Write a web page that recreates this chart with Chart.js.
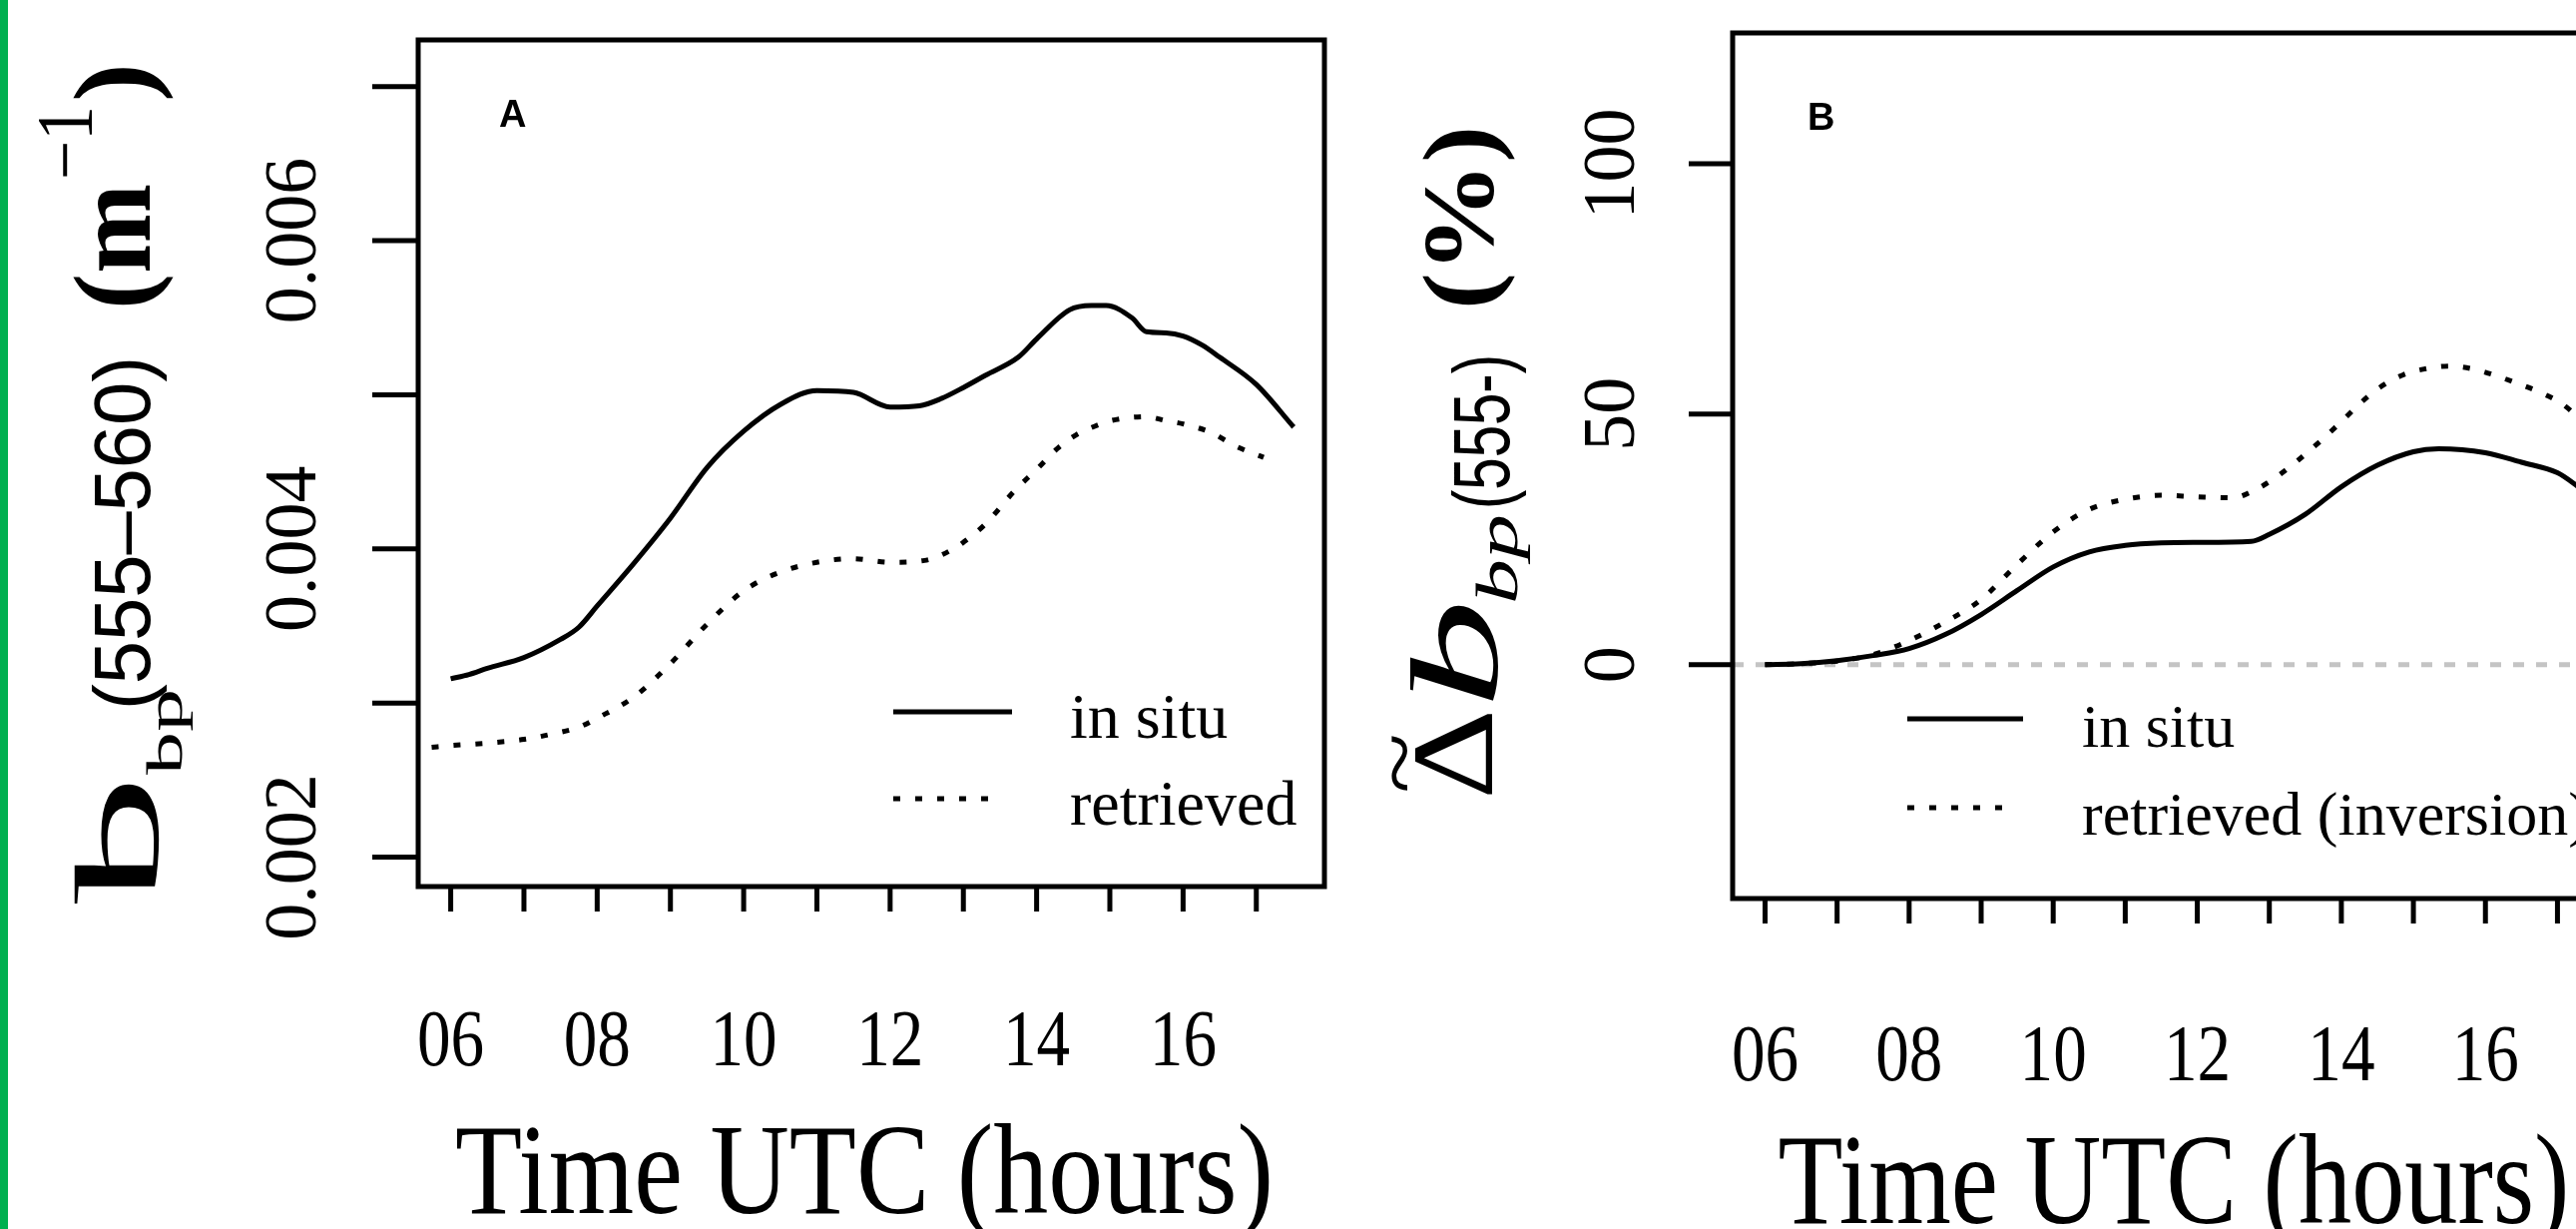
<!DOCTYPE html>
<html>
<head>
<meta charset="utf-8">
<script src="https://cdn.jsdelivr.net/npm/chart.js@4.4.1/dist/chart.umd.min.js"></script>
<style>
  html, body { margin: 0; padding: 0; background: #fff; }
  #wrap { position: relative; width: 2581px; height: 1231px; overflow: hidden; background: #fff; }
  #bar { position: absolute; left: 0; top: 0; width: 8px; height: 1231px; background: #00b050; }
  #chartA { position: absolute; left: 0; top: 0; }
  #chartB { position: absolute; left: 1385px; top: 0; }
</style>
</head>
<body>
<div id="wrap">
  <div id="bar"></div>
  <canvas id="chartA" width="1400" height="1231"></canvas>
  <canvas id="chartB" width="1400" height="1231"></canvas>
</div>
<script>
// ---- データ ----
// パネルA : b_bp(555-560) (m^-1)
var hoursInSituA = [6.0, 6.25, 6.5, 7.0, 7.5, 7.75, 8.0, 8.5, 9.0, 9.5, 10.0, 10.5, 11.0, 11.5, 12.0, 12.4, 12.7, 13.0, 13.3, 13.75, 14.0, 14.45, 14.75, 14.95, 15.3, 15.5, 15.77, 16.0, 16.26, 16.5, 17.0, 17.51];
var inSituA = [0.003157, 0.003185, 0.003225, 0.003295, 0.003413, 0.003492, 0.00363, 0.003906, 0.0042, 0.004528, 0.004764, 0.004937, 0.005028, 0.005016, 0.004921, 0.004929, 0.004976, 0.005047, 0.005126, 0.005244, 0.005362, 0.005551, 0.005579, 0.005579, 0.0055, 0.005409, 0.005402, 0.005382, 0.005323, 0.005244, 0.005067, 0.004791];
var hoursRetrievedA = [5.74, 6.0, 6.5, 7.0, 7.42, 7.75, 8.0, 8.5, 9.0, 9.5, 10.0, 10.48, 11.0, 11.48, 12.0, 12.47, 12.88, 13.0, 13.3, 13.7, 14.0, 14.29, 14.54, 14.83, 15.0, 15.49, 15.78, 16.0, 16.4, 16.69, 17.1];
var retrievedA = [0.002713, 0.002724, 0.00274, 0.002764, 0.002803, 0.002843, 0.002902, 0.003039, 0.003256, 0.003512, 0.003728, 0.003846, 0.003913, 0.003937, 0.003913, 0.003925, 0.004004, 0.004043, 0.004161, 0.004378, 0.004516, 0.004654, 0.00474, 0.004803, 0.004831, 0.004858, 0.004831, 0.004811, 0.004752, 0.004673, 0.004594];

// パネルB : 変化率 (%)
var hoursInSituB = [6.0, 6.5, 7.0, 7.5, 8.0, 8.5, 9.0, 9.5, 10.0, 10.5, 11.0, 11.5, 12.0, 12.75, 13.0, 13.5, 14.0, 14.5, 15.0, 15.35, 16.0, 16.5, 17.0, 17.26, 17.5];
var inSituB = [0, 0.2, 0.8, 1.8, 3.2, 6.0, 10.0, 14.8, 19.5, 22.5, 23.8, 24.3, 24.4, 24.6, 26.0, 30.0, 35.5, 39.8, 42.5, 43.1, 42.3, 40.4, 38.3, 35.8, 33];
var hoursRetrievedB = [6.0, 6.5, 7.0, 7.5, 8.0, 8.5, 9.0, 9.5, 10.0, 10.5, 11.0, 11.5, 12.0, 12.5, 12.75, 13.0, 13.4, 13.7, 14.0, 14.25, 14.5, 14.85, 15.15, 15.5, 15.8, 16.1, 16.47, 16.75, 17.06, 17.26, 17.5];
var retrievedB = [0, 0.2, 0.7, 2.0, 4.8, 8.5, 13.0, 20.0, 26.5, 31.0, 33.0, 33.8, 33.5, 33.3, 34.5, 36.5, 40.8, 44.5, 48.5, 52.0, 55.0, 57.8, 59.0, 59.6, 59.1, 57.9, 56.0, 54.4, 52.1, 49.7, 46];

// 目盛り
var xTicks = [6, 7, 8, 9, 10, 11, 12, 13, 14, 15, 16, 17];
var xLabelHours = [6, 8, 10, 12, 14, 16];
var xLabels = ['06', '08', '10', '12', '14', '16'];
var yTicksA = [0.002, 0.003, 0.004, 0.005, 0.006, 0.007];
var yLabelValsA = [0.002, 0.004, 0.006];
var yLabelsA = ['0.002', '0.004', '0.006'];
var yTicksB = [0, 50, 100];
var yLabelsB = ['0', '50', '100'];
var legendA = ['in situ', 'retrieved'];
var legendB = ['in situ', 'retrieved (inversion)'];

var SERIF = "'Liberation Serif', 'Times New Roman', serif";
var SANS = "'Liberation Sans', Arial, sans-serif";
var DOT = [7, 15];

function pts(xs, ys) {
  return xs.map(function (x, i) { return { x: x, y: ys[i] }; });
}

//テキスト描画（回転・横幅合わせ）
function txt(ctx, s, x, y, font, o) {
  o = o || {};
  ctx.save();
  ctx.translate(x, y);
  if (o.rot) ctx.rotate(o.rot);
  ctx.font = font;
  ctx.textAlign = o.align || 'left';
  ctx.textBaseline = 'alphabetic';
  var sx = o.sx || 1;
  if (o.len) sx = o.len / ctx.measureText(s).width;
  ctx.scale(sx, 1);
  ctx.fillStyle = '#000';
  ctx.fillText(s, 0, 0);
  ctx.restore();
}

//縦書き（下から上へ）のパーツ
function vpart(ctx, s, baseX, yStart, yEnd, font) {
  txt(ctx, s, baseX, yStart, font, { rot: -Math.PI / 2, len: yStart - yEnd });
}

function line(ctx, x1, y1, x2, y2, w, dash, color) {
  ctx.save();
  ctx.strokeStyle = color || '#000';
  ctx.lineWidth = w;
  ctx.lineCap = 'butt';
  ctx.setLineDash(dash || []);
  ctx.beginPath();
  ctx.moveTo(x1, y1);
  ctx.lineTo(x2, y2);
  ctx.stroke();
  ctx.restore();
}

function frame(g) {
  return {
    id: 'frame' + g.name,
    beforeDatasetsDraw: function (chart) {
      var ctx = chart.ctx, a = chart.chartArea;
      if (g.zero) {
        var y0 = chart.scales.y.getPixelForValue(0);
        line(ctx, a.left, y0, a.right, y0, 5, [11, 12], '#c4c4c4');
      }
    },
    afterDraw: function (chart) {
      var ctx = chart.ctx, a = chart.chartArea;
      var xs = chart.scales.x, ys = chart.scales.y;
      var ox = g.ox;
      ctx.save();
      ctx.translate(-ox, 0);
      var L = a.left + ox, R = a.right + ox, T = a.top, B = a.bottom;
      // 枠
      ctx.strokeStyle = '#000';
      ctx.lineWidth = 5;
      ctx.lineJoin = 'miter';
      ctx.setLineDash([]);
      ctx.strokeRect(L, T, R - L, B - T);
      // x目盛り
      xTicks.forEach(function (h) {
        var px = xs.getPixelForValue(h) + ox;
        line(ctx, px, B, px, B + g.xTickLen, 5);
      });
      xLabelHours.forEach(function (h, i) {
        var px = xs.getPixelForValue(h) + ox;
        txt(ctx, xLabels[i], px, g.xLabelBase, '80px ' + SERIF, { align: 'center', sx: 0.84 });
      });
      // y目盛り
      g.yTicks.forEach(function (v) {
        var py = ys.getPixelForValue(v);
        line(ctx, L - g.yTickLen, py, L, py, 5);
      });
      g.yLabelVals.forEach(function (v, i) {
        var py = ys.getPixelForValue(v);
        txt(ctx, g.yLabels[i], g.yLabelBase, py, '74px ' + SERIF, { rot: -Math.PI / 2, align: 'center' });
      });
      // x軸タイトル
      txt(ctx, 'Time UTC (hours)', g.xTitleX, g.xTitleBase, '130px ' + SERIF, { align: 'center', len: g.xTitleLen });
      // パネル記号
      txt(ctx, g.name, g.letterX, g.letterBase, 'bold 38px ' + SANS);
      // 凡例
      line(ctx, g.leg.x1, g.leg.y1, g.leg.x2, g.leg.y1, 5);
      line(ctx, g.leg.x1, g.leg.y2, g.leg.x3, g.leg.y2, 5, DOT);
      txt(ctx, g.legend[0], g.leg.tx, g.leg.b1, g.leg.size + 'px ' + SERIF);
      txt(ctx, g.legend[1], g.leg.tx, g.leg.b2, g.leg.size + 'px ' + SERIF);
      // y軸タイトル
      g.yTitle(ctx);
      ctx.restore();
    }
  };
}

function makeChart(id, g, dsets) {
  return new Chart(document.getElementById(id), {
    type: 'line',
    data: {
      datasets: dsets.map(function (d) {
        return {
          data: d.data,
          borderColor: '#000',
          borderWidth: 5,
          borderDash: d.dash || [],
          borderCapStyle: 'butt',
          pointRadius: 0,
          fill: false,
          cubicInterpolationMode: 'monotone'
        };
      })
    },
    options: {
      responsive: false,
      animation: false,
      events: [],
      layout: { padding: g.pad },
      plugins: { legend: { display: false }, tooltip: { enabled: false } },
      scales: {
        x: { type: 'linear', display: false, min: g.xMin, max: g.xMax },
        y: { type: 'linear', display: false, min: g.yMin, max: g.yMax }
      }
    },
    plugins: [frame(g)]
  });
}

//パネルA
makeChart('chartA', {
  name: 'A', ox: 0,
  pad: { left: 419, right: 73, top: 40, bottom: 343 },
  xMin: 5.556, xMax: 17.93, yMin: 0.001809, yMax: 0.007303,
  yTicks: yTicksA, yLabelVals: yLabelValsA, yLabels: yLabelsA,
  xTickLen: 25, yTickLen: 46, xLabelBase: 1067, yLabelBase: 316,
  xTitleX: 866, xTitleBase: 1215, xTitleLen: 820,
  letterX: 500, letterBase: 127,
  legend: legendA,
  leg: { x1: 895, x2: 1014, x3: 1000, y1: 713, y2: 800, tx: 1072, b1: 739, b2: 826, size: 64 },
  yTitle: function (ctx) {
    vpart(ctx, 'b', 158, 905, 776, '120px ' + SERIF);
    vpart(ctx, 'bp', 182, 776, 690, '50px ' + SERIF);
    vpart(ctx, '(555\u2013560)', 150, 711, 357, '80px ' + SANS);
    vpart(ctx, '(m', 150, 310, 184, 'bold 110px ' + SERIF);
    vpart(ctx, '\u22121', 92, 180, 106, '80px ' + SERIF);
    vpart(ctx, ')', 150, 102, 63, 'bold 110px ' + SERIF);
  }
}, [
  { data: pts(hoursInSituA, inSituA) },
  { data: pts(hoursRetrievedA, retrievedA), dash: DOT }
]);

//パネルB
makeChart('chartB', {
  name: 'B', ox: 1385, zero: true,
  pad: { left: 351, right: 154, top: 33, bottom: 331 },
  xMin: 5.55, xMax: 17.95, yMin: -46.7, yMax: 126.1,
  yTicks: yTicksB, yLabelVals: yTicksB, yLabels: yLabelsB,
  xTickLen: 25, yTickLen: 44, xLabelBase: 1082, yLabelBase: 1637,
  xTitleX: 2178, xTitleBase: 1225, xTitleLen: 793,
  letterX: 1811, letterBase: 130,
  legend: legendB,
  leg: { x1: 1911, x2: 2027, x3: 2006, y1: 720, y2: 809, tx: 2086, b1: 748, b2: 836, size: 62 },
  yTitle: function (ctx) {
    vpart(ctx, '~', 1432, 795, 734, '90px ' + SERIF);
    vpart(ctx, '\u0394', 1495, 801, 710, '116px ' + SERIF);
    vpart(ctx, 'b', 1500, 710, 600, 'italic 124px ' + SERIF);
    vpart(ctx, 'bp', 1520, 605, 515, 'italic 59px ' + SERIF);
    vpart(ctx, '(555-)', 1512, 510, 355, '80px ' + SANS);
    vpart(ctx, '(%)', 1496, 310, 126, 'bold 102px ' + SERIF);
  }
}, [
  { data: pts(hoursInSituB, inSituB) },
  { data: pts(hoursRetrievedB, retrievedB), dash: DOT }
]);
</script>
</body>
</html>
